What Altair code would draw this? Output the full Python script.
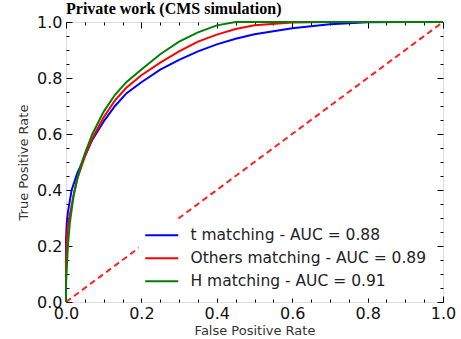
import altair as alt
import pandas as pd

# ---- data ----
T_FPR = [0.0, 0.0, 0.002, 0.005, 0.01, 0.015, 0.02, 0.03, 0.04, 0.05, 0.07, 0.1, 0.13, 0.16, 0.2, 0.25, 0.3, 0.35, 0.4, 0.45, 0.5, 0.6, 0.7, 0.8, 0.9, 1.0]
T_TPR = [0.0, 0.22, 0.28, 0.32, 0.36, 0.40, 0.42, 0.46, 0.49, 0.52, 0.58, 0.645, 0.70, 0.745, 0.785, 0.83, 0.865, 0.895, 0.92, 0.94, 0.956, 0.978, 0.992, 0.999, 1.0, 1.0]

O_FPR = [0.0, 0.0, 0.002, 0.005, 0.01, 0.02, 0.03, 0.04, 0.05, 0.07, 0.1, 0.13, 0.16, 0.2, 0.25, 0.3, 0.35, 0.4, 0.45, 0.5, 0.6, 0.7, 1.0]
O_TPR = [0.0, 0.15, 0.22, 0.27, 0.31, 0.38, 0.44, 0.48, 0.52, 0.585, 0.66, 0.72, 0.765, 0.81, 0.855, 0.895, 0.93, 0.955, 0.975, 0.988, 0.998, 1.0, 1.0]

H_FPR = [0.0, 0.0, 0.002, 0.005, 0.01, 0.02, 0.03, 0.04, 0.05, 0.07, 0.1, 0.13, 0.16, 0.2, 0.25, 0.3, 0.35, 0.4, 0.45, 1.0]
H_TPR = [0.0, 0.06, 0.12, 0.20, 0.28, 0.38, 0.44, 0.49, 0.53, 0.60, 0.68, 0.74, 0.785, 0.83, 0.885, 0.93, 0.963, 0.988, 1.0, 1.0]

LABELS = ["t matching - AUC = 0.88", "Others matching - AUC = 0.89", "H matching - AUC = 0.91"]
COLORS = ["#0000ff", "#ff0000", "#008000"]

DIAG_X = [0.0, 1.0]
DIAG_Y = [0.0, 1.0]

MAJOR_TICKS = [0.0, 0.2, 0.4, 0.6, 0.8, 1.0]
ALL_TICKS = [round(i * 0.05, 2) for i in range(21)]

TITLE = "Private work (CMS simulation)"
X_TITLE = "False Positive Rate"
Y_TITLE = "True Positive Rate"

W, H = 377, 280

rows = []
for lab, xs, ys in zip(LABELS, [T_FPR, O_FPR, H_FPR], [T_TPR, O_TPR, H_TPR]):
    for i, (a, b) in enumerate(zip(xs, ys)):
        rows.append({"fpr": a, "tpr": b, "label": lab, "i": i})
curves = pd.DataFrame(rows)
diag = pd.DataFrame({"fpr": DIAG_X, "tpr": DIAG_Y})

xscale = alt.Scale(domain=[0, 1], nice=False, zero=False)
yscale = alt.Scale(domain=[0, 1], nice=False, zero=False)

tick_size = {"condition": {"test": "abs(datum.value*5 - round(datum.value*5)) < 0.001", "value": 6}, "value": 3}

def inner_axis(orient, off):
    return alt.Axis(orient=orient, offset=off, values=ALL_TICKS, labels=False, domain=False,
                    ticks=True, tickSize=tick_size, tickColor="black", tickWidth=1, title=None, grid=False)

label_x_axis = alt.Axis(orient="bottom", values=MAJOR_TICKS, format=".1f", ticks=False, domain=False,
                        labelFontSize=16, labelFont="DejaVu Sans", labelColor="#111", labelPadding=3,
                        labelFlush=False, labelOverlap=False, labelBound=False,
                        title=X_TITLE, titleFontSize=13, titleFont="DejaVu Sans", titleFontWeight="normal",
                        titleColor="#333", titlePadding=3, grid=False)
label_y_axis = alt.Axis(orient="left", values=MAJOR_TICKS, format=".1f", ticks=False, domain=False,
                        labelFontSize=16, labelFont="DejaVu Sans", labelColor="#111", labelPadding=4,
                        labelFlush=False, labelOverlap=False, labelBound=False,
                        title=Y_TITLE, titleFontSize=13, titleFont="DejaVu Sans", titleFontWeight="normal",
                        titleColor="#333", titlePadding=6, grid=False)

diag_layer = alt.Chart(diag).mark_line(color="#ff2020", strokeWidth=2, strokeDash=[6, 4]).encode(
    x=alt.X("fpr:Q", scale=xscale, axis=label_x_axis),
    y=alt.Y("tpr:Q", scale=yscale, axis=label_y_axis),
)

curve_layer = alt.Chart(curves).mark_line(strokeWidth=2).encode(
    x=alt.X("fpr:Q", scale=xscale, axis=inner_axis("top", -H)),
    y=alt.Y("tpr:Q", scale=yscale, axis=inner_axis("right", -W)),
    color=alt.Color("label:N", sort=LABELS,
                    scale=alt.Scale(domain=LABELS, range=COLORS),
                    legend=alt.Legend(title=None, orient="none", legendX=72, legendY=197,
                                      padding=5, fillColor="white", strokeColor="transparent",
                                      labelFontSize=15.5, labelFont="DejaVu Sans", labelColor="#222",
                                      labelLimit=0,
                                      symbolType="M-1,0H5", symbolSize=121, symbolStrokeWidth=2,
                                      labelOffset=32, clipHeight=22.5, rowPadding=0, symbolLimit=0)),
    order=alt.Order("i:Q"),
)

frame_layer = alt.Chart(diag).mark_point(opacity=0).encode(
    x=alt.X("fpr:Q", scale=xscale, axis=inner_axis("bottom", -H)),
    y=alt.Y("tpr:Q", scale=yscale, axis=inner_axis("left", -W)),
)

chart = alt.layer(diag_layer, curve_layer, frame_layer).resolve_axis(
    x="independent", y="independent"
).properties(
    width=W, height=H,
    autosize=alt.AutoSizeParams(type="none"),
    padding={"left": 66, "top": 22, "right": 18, "bottom": 37},
    title=alt.TitleParams(TITLE, anchor="start", frame="group", font="Liberation Serif",
                          fontSize=16, fontWeight="bold", color="black", baseline="alphabetic", offset=-16),
).configure_view(stroke="black", strokeWidth=1.2).configure(background="white")

chart.save("out.html", embed_options={"renderer": "svg", "actions": False})
